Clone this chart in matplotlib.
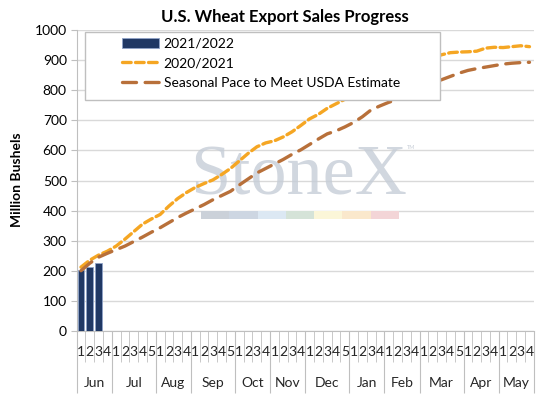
import matplotlib
matplotlib.use("Agg")
import matplotlib.pyplot as plt
from matplotlib.patches import Rectangle
from matplotlib.transforms import blended_transform_factory

plt.rcParams['font.family'] = ['Lato', 'DejaVu Sans']

# month names and number of weeks in each
months = ['Jun', 'Jul', 'Aug', 'Sep', 'Oct', 'Nov', 'Dec', 'Jan', 'Feb', 'Mar', 'Apr', 'May']
weeks_per_month = [4, 5, 4, 5, 4, 4, 5, 4, 4, 5, 4, 4]

sales_2122 = [203, 213, 227]

sales_2021 = [212, 235, 252, 265, 282, 305, 330, 355, 372, 387, 415, 440, 460,
              477, 490, 502, 520, 540, 565, 590, 612, 625, 632, 645, 662, 683,
              705, 720, 740, 755, 770, 785, 800, 815, 830, 845, 860, 872, 885,
              897, 908, 918, 925, 927, 928, 930, 940, 943, 942, 945, 948, 945]

seasonal_pace = [200, 225, 245, 258, 270, 282, 297, 312, 328, 343, 360, 377, 392,
                 406, 420, 436, 450, 464, 485, 505, 525, 540, 555, 570, 587, 602,
                 620, 638, 655, 665, 678, 693, 712, 735, 748, 760, 770, 785, 800,
                 812, 825, 835, 846, 857, 866, 872, 877, 882, 887, 890, 892, 893]

navy = '#203864'
orange = '#F5A623'
brown = '#B8703A'
gray = '#BFBFBF'

fig = plt.figure(figsize=(5.47, 4.07), dpi=100)
ax = fig.add_axes([0.140, 0.187, 0.836, 0.739])

n_weeks = sum(weeks_per_month)
x = list(range(n_weeks))

bars = ax.bar(range(len(sales_2122)), sales_2122, width=0.75, color=navy,
              edgecolor='#8FA3C8', linewidth=0.6, zorder=3, label='2021/2022')
l1, = ax.plot(x, sales_2021, color=orange, lw=2.4, dashes=(2.6, 1.3),
              dash_capstyle='round', zorder=3, label='2020/2021')
l2, = ax.plot(x, seasonal_pace, color=brown, lw=2.4, dashes=(4.2, 2.6),
              dash_capstyle='round', zorder=3, label='Seasonal Pace to Meet USDA Estimate')

ax.set_xlim(-0.5, n_weeks - 0.5)
ax.set_ylim(0, 1000)
ax.set_yticks(range(0, 1001, 100))
ax.grid(axis='y', color='#D9D9D9', lw=1, zorder=0)
ax.set_axisbelow(True)
ax.tick_params(axis='y', labelsize=10, length=4, color=gray, pad=3)

for s in ['top', 'right']:
    ax.spines[s].set_visible(False)
ax.spines['left'].set_color(gray)
ax.spines['bottom'].set_color(gray)

# week / month separators as ticks
bounds = [-0.5 + k for k in range(n_weeks + 1)]
month_bounds = [-0.5]
for w in weeks_per_month:
    month_bounds.append(month_bounds[-1] + w)
ax.set_xticks(month_bounds)
ax.set_xticks([b for b in bounds if b not in month_bounds], minor=True)
ax.tick_params(axis='x', which='major', length=44.6, color=gray, labelbottom=False)
ax.tick_params(axis='x', which='minor', length=22.3, color=gray, labelbottom=False)

trans = blended_transform_factory(ax.transData, ax.transAxes)
pos = 0
for m, w in zip(months, weeks_per_month):
    for k in range(w):
        ax.text(pos + k, -0.07, str(k + 1), transform=trans, ha='center',
                va='center', fontsize=10, color='#262626')
    ax.text(pos + (w - 1) / 2, -0.173, m, transform=trans, ha='center',
            va='center', fontsize=10, color='#262626')
    pos += w

# watermark
ax.text(0.485, 0.452, 'StoneX', transform=ax.transAxes, ha='center', va='baseline',
        fontsize=52, family='Liberation Serif', color='#C6CDD7', alpha=0.8, zorder=1)
ax.text(0.722, 0.61, 'TM', transform=ax.transAxes, ha='left', va='center',
        fontsize=4, color='#C6CDD7', zorder=1)
strip = ['#CBD1D9', '#CDD6E2', '#DCE8F3', '#D5E3D8', '#FBF6D8', '#FAE8CC', '#F3D5D7']
sx0, sw, sy0, sh = 0.272, 0.0619, 0.372, 0.028
for i, c in enumerate(strip):
    ax.add_patch(Rectangle((sx0 + i * sw, sy0), sw, sh, transform=ax.transAxes,
                           facecolor=c, edgecolor='none', zorder=1))

# legend with white box
ax.add_patch(Rectangle((0.018, 0.767), 0.777, 0.226, transform=ax.transAxes,
                       facecolor='white', edgecolor=gray, lw=1, zorder=4))
leg = ax.legend([bars, l1, l2], [bars.get_label(), l1.get_label(), l2.get_label()],
                loc='upper left', bbox_to_anchor=(0.099, 0.975), frameon=False,
                fontsize=10, borderpad=0, borderaxespad=0, handlelength=2.7,
                handletextpad=0.3, labelspacing=0.55)
leg.set_zorder(5)

fig.text(0.52, 0.958, 'U.S. Wheat Export Sales Progress', ha='center', va='center',
         fontsize=12, fontweight='bold', color='#000000')
fig.text(0.031, 0.558, 'Million Bushels', rotation=90, ha='center', va='center',
         fontsize=10, fontweight='bold', color='#000000')

fig.savefig('out.png', dpi=100)
